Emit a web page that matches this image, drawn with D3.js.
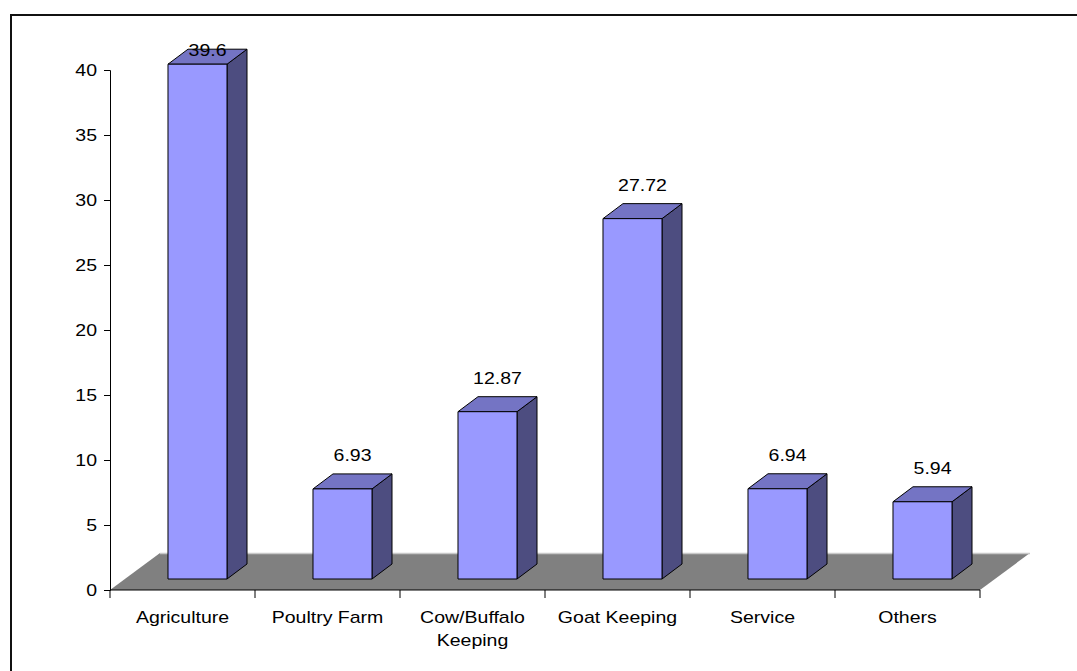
<!DOCTYPE html>
<html>
<head>
<meta charset="utf-8">
<script src="https://cdn.jsdelivr.net/npm/d3@7"></script>
<style>
  html, body { margin: 0; padding: 0; background: #fff; }
  svg { display: block; font-family: Arial, "Liberation Sans", sans-serif; }
</style>
</head>
<body>
<svg id="chart" width="1077" height="671"></svg>
<script>
// Share of respondents by occupation (%)
const categories = ["Agriculture", "Poultry Farm", "Cow/Buffalo Keeping", "Goat Keeping", "Service", "Others"];
const categoryLines = [["Agriculture"], ["Poultry Farm"], ["Cow/Buffalo", "Keeping"], ["Goat Keeping"], ["Service"], ["Others"]];
const values = [39.6, 6.93, 12.87, 27.72, 6.94, 5.94];
const yTicks = [0, 5, 10, 15, 20, 25, 30, 35, 40];

const svg = d3.select("#chart");
const STRETCH = 1.22; // text is drawn slightly wide

// text helper: places a horizontally stretched label anchored at (x, y)
function label(parent, x, y, anchor) {
  return parent.append("text")
    .attr("transform", `translate(${x},${y}) scale(${STRETCH},1)`)
    .attr("text-anchor", anchor)
    .attr("font-size", 16).attr("fill", "#000");
}

// outer chart border (runs past the page's right and bottom edges)
svg.append("rect")
  .attr("x", 11).attr("y", 15)
  .attr("width", 1200).attr("height", 800)
  .attr("fill", "none").attr("stroke", "#111").attr("stroke-width", 2);

const x = d3.scaleBand().domain(categories).range([110, 980])
  .paddingInner(0.593).paddingOuter(0.2965);
const y = d3.scaleLinear().domain([0, 40]).range([590, 70]);

// 3-D projection offsets
const floorDepth = [50, -37];
const barFront = [15, -11];
const barDepth = [20, -15];

// floor
const x0 = x.range()[0], x1 = x.range()[1], yb = y(0);
svg.append("path")
  .attr("d", `M${x0},${yb} L${x0 + floorDepth[0]},${yb + floorDepth[1]} L${x1 + floorDepth[0]},${yb + floorDepth[1]} L${x1},${yb} Z`)
  .attr("fill", "#808080");
svg.append("line")
  .attr("x1", x0 + floorDepth[0]).attr("y1", yb + floorDepth[1] + 0.5)
  .attr("x2", x1 + floorDepth[0]).attr("y2", yb + floorDepth[1] + 0.5)
  .attr("stroke", "#c8c8c8").attr("stroke-width", 1.5);

// bars
const bars = svg.append("g");
const valueLabels = svg.append("g");
categories.forEach((c, i) => {
  const v = values[i];
  const h = y(0) - y(v);
  const fx = x(c) + barFront[0];
  const fw = x.bandwidth();
  const fb = y(0) + barFront[1];
  const ft = fb - h;
  const [dx, dy] = barDepth;
  const g = bars.append("g").attr("stroke", "#000").attr("stroke-width", 1).attr("stroke-linejoin", "round");
  // side face
  g.append("path")
    .attr("d", `M${fx + fw},${fb} L${fx + fw + dx},${fb + dy} L${fx + fw + dx},${ft + dy} L${fx + fw},${ft} Z`)
    .attr("fill", "#4d4d80");
  // top face
  g.append("path")
    .attr("d", `M${fx},${ft} L${fx + dx},${ft + dy} L${fx + fw + dx},${ft + dy} L${fx + fw},${ft} Z`)
    .attr("fill", "#7474c4");
  // front face
  g.append("rect")
    .attr("x", fx).attr("y", ft).attr("width", fw).attr("height", h)
    .attr("fill", "#9999ff");
  // value label
  const lx = fx + fw / 2 + dx / 2;
  const ly = Math.max(ft + dy - 13, 56);
  label(valueLabels, lx, ly, "middle").text(v);
});

// y axis
const yAxis = d3.axisLeft(y).tickValues(yTicks).tickSize(6).tickFormat(() => "");
svg.append("g")
  .attr("transform", `translate(${x0},0)`)
  .call(yAxis)
  .call(g => g.select(".domain").attr("stroke", "#000"))
  .call(g => g.selectAll(".tick line").attr("stroke", "#000"));
const yLabels = svg.append("g");
yTicks.forEach(t => {
  label(yLabels, x0 - 13, y(t) + 6, "end").text(t);
});

// x axis baseline and category separators
const sepX = categories.map(c => x(c) - (x.step() - x.bandwidth()) / 2).concat([x1]);
svg.append("line")
  .attr("x1", x0).attr("x2", x1).attr("y1", yb).attr("y2", yb)
  .attr("stroke", "#000").attr("stroke-width", 1);
svg.append("g").selectAll("line").data(sepX).join("line")
  .attr("x1", d => d).attr("x2", d => d)
  .attr("y1", yb).attr("y2", yb + 8)
  .attr("stroke", "#000");

// category labels
const lab = svg.append("g");
categories.forEach((c, i) => {
  const cx = x(c) + x.bandwidth() / 2;
  categoryLines[i].forEach((line, j) => {
    label(lab, cx, 623 + j * 23, "middle").text(line);
  });
});
</script>
</body>
</html>
